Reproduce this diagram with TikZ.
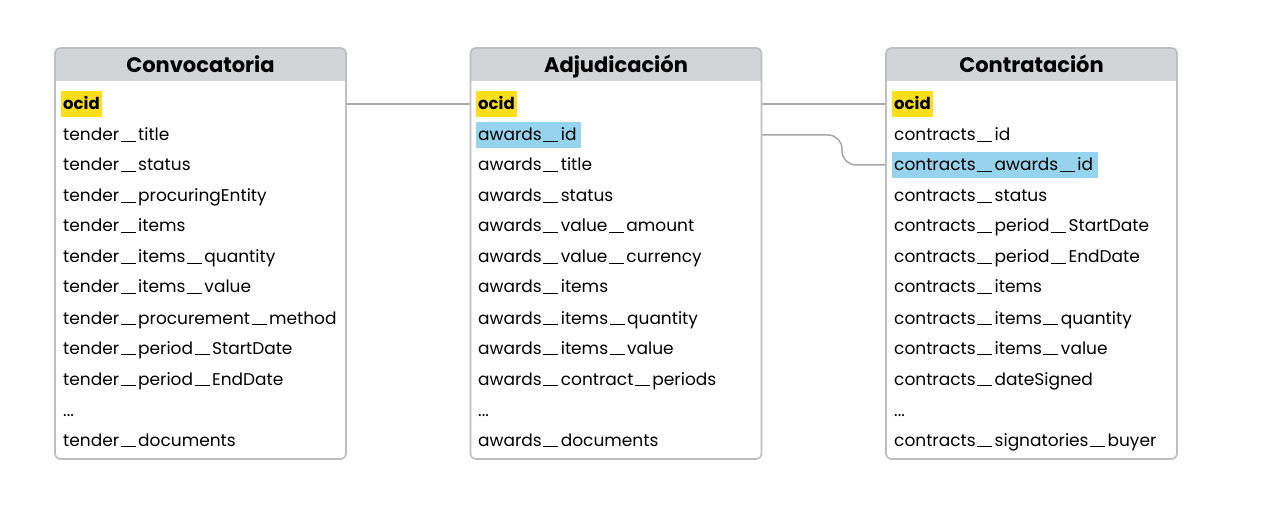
\documentclass[tikz,border=0pt]{standalone}
\usepackage{fontspec}
\setmainfont{Poppins}
\definecolor{hdrgray}{HTML}{D3D4D6}
\definecolor{bordgray}{HTML}{BEBEBE}
\definecolor{keyyellow}{HTML}{FFDF1C}
\definecolor{keyblue}{HTML}{96D3EE}
\definecolor{linkgray}{HTML}{A8A8A8}
\newcommand\rowdots{...}
\newcommand\us{\kern1.5pt\rule[-1.2pt]{15pt}{1.2pt}\kern2.5pt}
\begin{document}
\begin{tikzpicture}[x=1pt,y=-1pt,
  tablebox/.style={draw=bordgray, line width=1.6pt, rounded corners=5pt, minimum width=291pt, minimum height=411pt, inner sep=0pt},
  hdrtext/.style={font=\fontsize{21}{24}\selectfont\bfseries, inner sep=0pt, anchor=base},
  rowtext/.style={anchor=west, font=\fontsize{17}{20}\selectfont, inner xsep=2pt, inner ysep=4.5pt, text height=14.5pt, text depth=2.5pt},
  pkey/.style={rowtext, fill=keyyellow, font=\fontsize{16.5}{20}\selectfont\bfseries},
  fkey/.style={rowtext, fill=keyblue},
  link/.style={draw=linkgray, line width=1.5pt}
]
\useasboundingbox (0,0) rectangle (1281,510);

% table frames and headers
\foreach \nm/\cx/\title in {conv/200.5/Convocatoria, adj/616/Adjudicación, con/1031.5/Contratación}{
  \begin{scope}
    \clip[rounded corners=5pt] (\cx-145.5,48) rectangle (\cx+145.5,459);
    \fill[hdrgray] (\cx-145.5,48) rectangle (\cx+145.5,81);
  \end{scope}
  \node[tablebox] (\nm) at (\cx,253.5) {};
  \node[hdrtext] (\nm-title) at (\cx,72.5) {\title};
}

% Convocatoria rows
\node[pkey] (conv-r1) at (61,104) {ocid};
\foreach \i/\t in {2/tender\us title, 3/tender\us status, 4/tender\us procuringEntity, 5/tender\us items, 6/tender\us items\us quantity, 7/tender\us items\us value, 8/tender\us procurement\us method, 9/tender\us period\us StartDate, 10/tender\us period\us EndDate, 11/\rowdots, 12/tender\us documents}{
  \node[rowtext] (conv-r\i) at (61,{round(104+30.55*(\i-1))}) {\t};
}

% Adjudicacion rows
\node[pkey] (adj-r1) at (476,104) {ocid};
\node[fkey] (adj-r2) at (476,135) {\makebox[101pt][l]{awards\us id}};
\foreach \i/\t in {3/awards\us title, 4/awards\us status, 5/awards\us value\us amount, 6/awards\us value\us currency, 7/awards\us items, 8/awards\us items\us quantity, 9/awards\us items\us value, 10/awards\us contract\us periods, 11/\rowdots, 12/awards\us documents}{
  \node[rowtext] (adj-r\i) at (476,{round(104+30.55*(\i-1))}) {\t};
}

% Contratacion rows
\node[pkey] (con-r1) at (892,104) {ocid};
\node[rowtext] (con-r2) at (892,135) {contracts\us id};
\node[fkey] (con-r3) at (892,165) {\makebox[202pt][l]{contracts\us awards\us id}};
\foreach \i/\t in {4/contracts\us status, 5/contracts\us period\us StartDate, 6/contracts\us period\us EndDate, 7/contracts\us items, 8/contracts\us items\us quantity, 9/contracts\us items\us value, 10/contracts\us dateSigned, 11/\rowdots, 12/contracts\us signatories\us buyer}{
  \node[rowtext] (con-r\i) at (892,{round(104+30.55*(\i-1))}) {\t};
}

% connectors
\draw[link] (conv.east |- conv-r1) -- (adj.west |- adj-r1);
\draw[link] (adj.east |- adj-r1) -- (con.west |- con-r1);
\draw[link, rounded corners=14pt] (adj.east |- adj-r2) -- (842,135) -- (842,165) -- (con.west |- con-r3);
\end{tikzpicture}
\end{document}
